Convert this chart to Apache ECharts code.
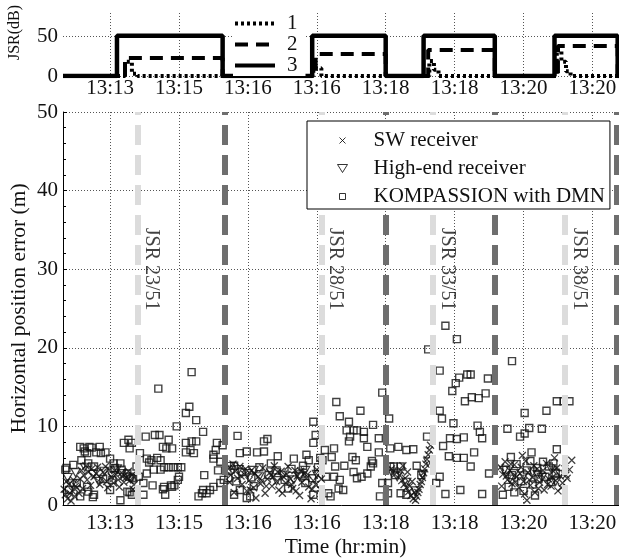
<!DOCTYPE html>
<html><head><meta charset="utf-8">
<script src="https://cdn.jsdelivr.net/npm/echarts@6/dist/echarts.min.js"></script>
<style>html,body{margin:0;padding:0;background:#fff}#c{width:619px;height:558px}</style>
</head><body><div id="c"></div>
<script>
// ---- axis / tick data ----
const xTickValues = [60,120,180,240,300,360,420,480];   // seconds
const xTickLabels = ['13:13','13:15','13:16','13:16','13:18','13:18','13:20','13:20'];
const X_MIN = 19, X_MAX = 511;
const jsrTicks = [0,50];

// ---- jamming events ----
const jamStart = [84, 244, 341, 456];
const jamEnd = [160, 300, 395, 501];
const jamLabels = ['JSR 23/51','JSR 28/51','JSR 33/51','JSR 38/51'];

// ---- JSR (dB) curves: [t, dB] ----
const jsr1 = [[19,0],[73,0],[73,18],[79,18],[79,3],[84,3],[84,0],[237,0],[237,10],[244,10],[244,0],[338,0],[338,19],[342,19],[342,8],[346,8],[346,0],[449,0],[449,33],[453,33],[453,18],[457,18],[457,6],[461,6],[461,0],[511,0]];
const jsr2 = [[19,0],[73,0],[73,23],[158,23],[158,0],[239,0],[239,28],[300,28],[300,0],[337,0],[337,33],[395,33],[395,0],[450,0],[450,38],[502,38],[502,0],[511,0]];
const jsr3 = [[19,0],[66,0],[66,51],[158,51],[158,0],[236,0],[236,51],[300,51],[300,0],[333,0],[333,51],[395,51],[395,0],[447,0],[447,51],[502,51],[502,0],[511,0]];

// ---- horizontal position error (m): [t, m] ----
const swPoints = [
[20,2.0],[21,1.3],[23,0.8],[24,2.6],[26,0.5],[27,1.8],[29,1.1],[28,3.2],[31,2.2],[33,1.5],[35,4.4],[37,3.8],[39,5.0],[41,4.2],[44,4.6],[46,3.6],[49,4.8],[52,3.4],[54,4.2],[57,3.0],[59,4.5],[61,3.6],[63,2.8],[65,3.9],[67,3.2],[70,4.1],[72,2.9],[74,3.5],[77,3.1],[79,3.8],[81,2.6],
[22,3.0],[25,1.5],[30,2.4],[34,3.3],[36,2.1],[40,3.2],[43,2.5],[48,4.0],[51,2.6],[56,4.9],[58,2.2],[64,4.4],[68,2.3],[71,3.6],[76,4.3],[80,2.0],
[163,4.6],[165,3.8],[167,5.2],[169,4.3],[171,3.4],[173,4.9],[175,2.6],[177,3.9],[179,1.8],[181,3.1],[183,4.4],[185,2.2],[187,0.9],[189,3.6],[191,2.7],[193,4.7],[195,1.5],[197,3.3],[199,4.1],[201,2.4],[203,5.0],[205,3.0],[207,1.9],[209,4.3],[211,3.6],[213,2.8],[215,4.9],[217,3.3],[219,2.1],[221,4.4],[223,3.7],[225,1.2],[227,2.9],[229,4.0],[231,3.4],[233,2.3],[235,0.8],[237,3.1],[239,2.6],[241,3.8],[243,2.0],
[164,2.9],[168,1.6],[174,3.7],[178,4.6],[182,1.9],[186,4.0],[192,3.1],[196,2.4],[202,3.6],[206,4.2],[210,1.5],[214,3.9],[218,2.6],[222,1.8],[226,4.3],[232,3.9],[236,2.0],[240,4.5],[244,3.3],
[305,4.6],[308,3.9],[312,3.8],[314,3.1],[316,2.6],[318,2.2],[320,1.7],[322,1.2],[324,0.8],[326,0.6],[327,1.1],[328,1.6],[329,2.0],[330,2.6],[331,3.0],[332,3.5],[333,4.1],[334,4.6],[335,5.2],[336,5.8],[337,6.4],[338,7.0],[339,7.6],[313,4.4],[317,3.4],[321,2.4],[325,1.6],[319,4.2],[323,3.0],[315,5.0],
[400,4.8],[402,3.9],[404,5.5],[406,3.2],[408,4.4],[410,2.7],[412,5.1],[414,3.6],[416,2.2],[418,4.8],[420,3.0],[422,5.6],[424,4.1],[426,2.5],[428,3.5],[430,1.6],[432,4.6],[434,2.9],[436,3.8],[438,1.9],[440,5.3],[442,3.3],[444,2.4],[446,4.3],[448,3.1],[450,1.8],[452,3.7],[454,2.8],[456,4.6],[458,3.4],[423,0.6],[419,6.3],[447,6.0],[460,4.5],[462,5.7],
[401,2.4],[405,3.7],[409,5.2],[413,2.9],[417,4.0],[421,1.4],[425,3.2],[429,5.0],[433,2.1],[437,4.4],[441,2.6],[445,3.5],[449,4.7],[453,2.2],[457,3.8]
];
const highEndPoints = [
[23,3.5],[30,4.1],[38,4.8],[45,3.9],[55,4.3],[62,3.7],[70,4.0],[78,3.3],[27,2.7],[50,3.0],[66,4.6],
[165,4.9],[172,4.5],[180,4.0],[190,3.6],[200,4.2],[210,3.8],[220,3.2],[230,4.4],[240,3.9],[185,4.4],[205,3.1],[225,3.6],
[305,4.2],[310,3.6],[318,2.9],[326,1.8],[332,3.9],[337,5.5],
[403,4.4],[412,4.0],[420,3.7],[428,4.2],[436,3.5],[444,4.6],[452,3.9],[408,3.3],[432,3.9],[448,3.0]
];
const kompPoints = [
[21,4.5],[22,4.7],[28,5.1],[35,5.7],[37,7.2],[40,6.6],[44,7.3],[41,5.3],[46,4.9],[51,7.4],[52,6.6],[56,6.7],[48,6.7],[60,5.9],[63,5.3],[64,4.7],[69,5.3],[70,4.5],[75,4.0],[77,3.6],[24,1.9],[31,2.8],[40,2.3],[46,1.3],[34,1.1],[60,1.9],[69,0.6],[75,1.7],[79,1.3],[77,7.2],[72,7.9],[76,8.3],[79,7.9],[83,4.9],[80,3.4],[85,3.6],[45,1.0],[41,1.7],[62,3.2],[54,3.3],[77,1.6],[34,7.4],[42,7.4],[38,6.8],
[86,6.6],[91,8.7],[99,8.9],[103,8.9],[89,1.3],[94,5.4],[92,4.0],[98,4.5],[104,4.5],[107,4.8],[111,4.8],[115,4.8],[119,4.8],[122,4.8],[102,14.8],[111,8.3],[106,7.4],[114,7.2],[109,7.2],[107,2.3],[108,1.3],[114,2.3],[116,2.5],[119,3.2],[120,3.6],[118,10.0],[126,7.9],[131,8.1],[135,8.1],[130,7.0],[126,6.7],[133,6.6],[129,12.5],[126,11.7],[135,10.8],[131,16.9],[141,9.3],[142,3.8],[137,1.1],[140,1.5],[144,1.5],[141,1.9],[147,1.9],[150,2.3],[153,7.9],[152,7.0],[150,5.9],[150,6.4],[159,3.2],[156,2.8],[92,5.9],[96,5.7],[101,6.0],[104,5.7],[89,2.8],[97,2.5],[106,2.0],[113,2.5],[154,4.4],[156,5.5],[158,7.6],
[163,3.4],[171,8.8],[173,6.6],[179,6.8],[188,6.7],[194,6.8],[194,8.1],[197,8.4],[206,6.2],[220,5.9],[231,6.4],[233,5.7],[168,1.3],[173,1.9],[179,0.9],[182,1.1],[237,10.6],[237,1.3],[165,4.5],[168,5.0],[175,4.2],[183,3.5],[190,4.8],[198,3.8],[205,4.4],[212,3.2],[218,4.6],[225,3.9],[230,2.8],[236,3.4],[241,4.8],[170,3.0],[185,2.4],[200,5.3],[215,2.1],[228,5.0],[239,8.9],[237,7.9],[243,6.0],
[247,7.0],[250,1.5],[252,1.1],[255,7.2],[253,6.1],[257,13.1],[260,11.3],[256,4.9],[264,5.0],[255,3.6],[260,3.2],[263,1.9],[259,2.1],[268,10.6],[272,9.5],[275,9.5],[266,9.5],[269,8.7],[268,8.1],[271,6.1],[274,5.7],[272,4.2],[275,3.4],[279,3.6],[284,4.0],[287,4.9],[289,5.3],[278,12.0],[281,9.3],[281,8.5],[284,7.4],[294,8.5],[289,10.2],[294,6.7],[288,5.6],[297,14.3],[297,2.8],[295,1.1],[245,5.7],[248,3.6],
[302,2.8],[303,11.0],[304,7.2],[311,7.4],[318,7.0],[324,7.1],[304,4.9],[307,4.9],[313,4.9],[308,3.8],[302,1.5],[313,1.5],[318,1.3],[336,8.7],[337,19.8],[331,3.8],[327,5.0],
[352,22.8],[362,21.1],[347,17.1],[358,14.5],[361,15.5],[364,16.2],[371,16.6],[374,16.6],[389,16.1],[369,13.2],[375,13.7],[381,13.6],[387,14.2],[347,12.0],[349,11.0],[359,10.4],[380,10.1],[382,9.3],[384,8.5],[356,8.5],[362,8.4],[368,8.6],[355,6.2],[362,6.0],[368,6.0],[377,6.7],[350,7.5],[374,4.9],[390,4.0],[352,1.4],[365,1.9],[384,1.4],[344,2.8],[347,3.6],
[402,1.3],[407,2.3],[410,18.3],[421,11.7],[440,12.0],[406,9.7],[417,8.7],[421,9.1],[425,9.8],[436,9.7],[427,6.7],[449,7.1],[437,5.5],[442,4.9],[446,5.3],[439,3.6],[432,4.7],[405,4.5],[410,3.8],[414,5.2],[418,3.0],[423,4.4],[428,2.6],[433,3.3],[444,2.9],[448,4.1],[412,1.6],[420,1.8],[430,1.2],[409,6.1],[426,5.6],
[449,13.2],[455,13.2],[460,13.2]
];

// ---- styling ----
const FONT = 'Liberation Serif';
const TXT = '#111';
const FS = 21;
const gridLine = {show:true, lineStyle:{color:'#555', type:[1,2], width:1}};
const crossSym = 'path://M0,0L10,10M10,0L0,10';
const triSym = 'path://M0,0L10,0L5,9Z';
const xFmt = v => { const i = xTickValues.indexOf(v); return i < 0 ? '' : xTickLabels[i]; };

function xAxis(gi){
  return {
    type:'value', gridIndex:gi, min:X_MIN, max:X_MAX,
    axisLine:{show: gi===1, onZero:false, lineStyle:{color:'#000', width:1}},
    axisTick:{show:false, customValues:xTickValues},
    axisLabel:{customValues:xTickValues, formatter:xFmt, fontFamily:FONT, fontSize:FS, color:TXT, margin: gi===0 ? 2 : 8},
    splitLine:gridLine,
    name: gi===1 ? 'Time (hr:min)' : '', nameLocation:'middle', nameGap:31, nameMoveOverlap:false,
    nameTextStyle:{fontFamily:FONT, fontSize:21.5, color:TXT}
  };
}

const option = {
  animation:false,
  backgroundColor:'#fff',
  grid:[
    {left:63, top:13, width:565, height:63, outerBoundsMode:'none', containLabel:false},
    {left:63, top:112, width:565, height:393, outerBoundsMode:'none', containLabel:false}
  ],
  xAxis:[xAxis(0), xAxis(1)],
  yAxis:[
    {type:'value', gridIndex:0, min:0, max:80,
     axisLine:{show:false}, axisTick:{show:false, customValues:jsrTicks},
     axisLabel:{customValues:jsrTicks, fontFamily:FONT, fontSize:FS, color:TXT, margin:5},
     splitLine:gridLine,
     name:'JSR(dB)', nameLocation:'middle', nameGap:40, nameMoveOverlap:false,
     nameTextStyle:{fontFamily:FONT, fontSize:16, color:TXT, padding:[0,0,0,24]}},
    {type:'value', gridIndex:1, min:0, max:50, interval:10,
     axisLine:{show:true, lineStyle:{color:'#000', width:1}},
     axisTick:{show:true, inside:true, length:4, lineStyle:{color:'#000'}},
     minorTick:{show:true, splitNumber:5, length:3, lineStyle:{color:'#000'}},
     axisLabel:{fontFamily:FONT, fontSize:FS, color:TXT, margin:5},
     splitLine:gridLine,
     name:'Horizontal position error (m)', nameLocation:'middle', nameGap:33, nameMoveOverlap:false,
     nameTextStyle:{fontFamily:FONT, fontSize:21.5, color:TXT}}
  ],
  legend:[
    {data:['1','2','3'], orient:'vertical', left:233, top:13, itemWidth:40, itemHeight:14, itemGap:0,
     padding:[0,8,0,0], backgroundColor:'#fff', selectedMode:false, z:10,
     lineStyle:{width:4},
     itemStyle:{color:'rgba(0,0,0,0)', borderColor:'rgba(0,0,0,0)', borderWidth:0},
     textStyle:{fontFamily:FONT, fontSize:FS, color:TXT, lineHeight:20, padding:[0,0,0,7]}},
    {data:[
       {name:'SW receiver', icon:'path://M0,0M18,18M6,6L12,12M12,6L6,12'},
       {name:'High-end receiver', icon:'path://M0,0M18,18M4,5L14,5L9,13Z'},
       {name:'KOMPASSION with DMN', icon:'path://M0,0M18,18M6,6L12,6L12,12L6,12Z'}],
     orient:'vertical', left:307, top:121, itemWidth:52, itemHeight:18, itemGap:5,
     padding:[8,5,1,24], backgroundColor:'#fff', borderColor:'#000', borderWidth:1, borderRadius:0,
     selectedMode:false, z:10,
     itemStyle:{color:'none', borderColor:'#000', borderWidth:1},
     textStyle:{fontFamily:FONT, fontSize:FS, color:TXT, lineHeight:20}}
  ],
  series:[
    {name:'1', type:'line', xAxisIndex:0, yAxisIndex:0, data:jsr1, symbol:'none', z:3,
     lineStyle:{color:'#000', width:4, type:[3,3]}},
    {name:'2', type:'line', xAxisIndex:0, yAxisIndex:0, data:jsr2, symbol:'none', z:3,
     lineStyle:{color:'#000', width:4, type:[13,8]}},
    {name:'3', type:'line', xAxisIndex:0, yAxisIndex:0, data:jsr3, symbol:'none', z:4,
     lineStyle:{color:'#000', width:4.5, type:'solid'}},
    {name:'SW receiver', type:'scatter', xAxisIndex:1, yAxisIndex:1, data:swPoints,
     symbol:crossSym, symbolSize:7, itemStyle:{color:'none', borderColor:'#111', borderWidth:1.3}},
    {name:'High-end receiver', type:'scatter', xAxisIndex:1, yAxisIndex:1, data:highEndPoints,
     symbol:triSym, symbolSize:[9,8], itemStyle:{color:'none', borderColor:'#111', borderWidth:1.2}},
    {name:'KOMPASSION with DMN', type:'scatter', xAxisIndex:1, yAxisIndex:1, data:kompPoints,
     symbol:'rect', symbolSize:7, itemStyle:{color:'none', borderColor:'#111', borderWidth:1.4},
     markLine:{silent:true, symbol:['none','none'], label:{show:false}, animation:false,
       data:[
         ...jamStart.map(t => ({xAxis:t, lineStyle:{color:'#dcdcdc', width:6, type:[20,10]}})),
         ...jamEnd.map(t => ({xAxis:t, lineStyle:{color:'#6e6e6e', width:6, type:[20,10]}}))
       ]}},
    {name:'jsrText', type:'scatter', xAxisIndex:1, yAxisIndex:1, silent:true, symbolSize:0, z:6,
     data: jamStart.map((t,i) => ({name:jamLabels[i], value:[t, 30]})),
     label:{show:true, position:'inside', formatter:'{b}', rotate:-90, offset:[0,-14],
       fontFamily:FONT, fontSize:20, color:TXT}}
  ]
};
const chart = echarts.init(document.getElementById('c'), null, {renderer:'canvas'});
chart.setOption(option);
</script>
</body></html>
